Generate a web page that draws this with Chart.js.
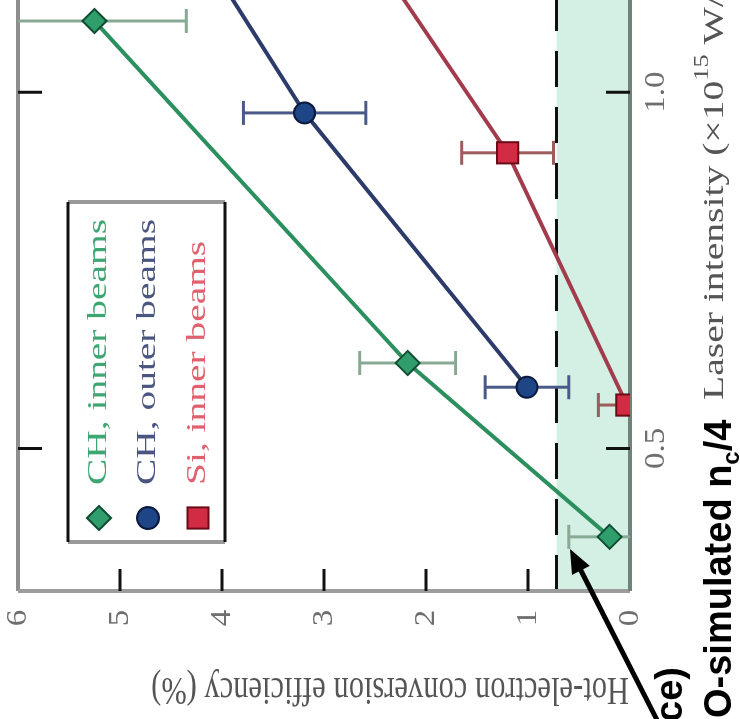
<!DOCTYPE html>
<html>
<head>
<meta charset="utf-8">
<script src="https://cdn.jsdelivr.net/npm/chart.js@4.4.0/dist/chart.umd.min.js"></script>
<style>
  html, body { margin: 0; padding: 0; background: #fff; }
  #wrap { position: relative; width: 740px; height: 719px; overflow: hidden; background: #fff; }
  /* the figure is shown turned a quarter turn counter-clockwise */
  #rot { position: absolute; left: 0; top: 0; width: 1000px; height: 740px;
         transform-origin: 0 0; transform: translate(0px, 719px) rotate(-90deg); }
</style>
</head>
<body>
<div id="wrap"><div id="rot"><canvas id="c" width="1000" height="740"></canvas></div></div>
<script>
// ── DATA ──────────────────────────────────────────────────────────────────────
const seriesLabels = ['CH, inner beams', 'CH, outer beams', 'Si, inner beams'];

const chInnerX   = [0.376, 0.62, 1.10];
const chInnerY   = [0.20, 2.18, 5.25];
const chInnerErr = [0.40, 0.47, 0.90];

const chOuterX   = [0.586, 0.971, 1.30];
const chOuterY   = [1.01, 3.19, 4.65];
const chOuterErr = [0.41, 0.60, null];

const siInnerX   = [0.561, 0.915, 1.30];
const siInnerY   = [0.03, 1.20, 3.02];
const siInnerErr = [0.28, 0.45, null];

const effTicks = [0, 1, 2, 3, 4, 5, 6];
const intensityTicks = [0.5, 1.0];
const threshold = 0.72;   // top of the shaded band

// ── HELPERS ───────────────────────────────────────────────────────────────────
const SERIF = '"Liberation Serif", "DejaVu Serif", serif';
const SANS = '"Liberation Sans", Arial, sans-serif';

function toPoints(xs, ys) { return xs.map((x, i) => ({ x: x, y: ys[i] })); }

// text stretched along the horizontal (intensity) direction, like the source figure
function txt(c, s, u, v, o) {
  c.save();
  c.translate(u, v);
  c.scale(o.sx || 1, 1);
  if (o.rot) c.rotate(o.rot);
  c.font = (o.weight || 'normal') + ' ' + o.size + 'px ' + (o.family || SERIF);
  c.fillStyle = o.color || '#666';
  c.textAlign = o.align || 'left';
  c.textBaseline = o.base || 'middle';
  c.fillText(s, 0, 0);
  const w = c.measureText(s).width * (o.sx || 1);
  c.restore();
  return w;
}

function marker(c, style, u, v, r, fill, stroke) {
  c.save();
  c.beginPath();
  if (style === 'rectRot') {
    c.moveTo(u, v - r); c.lineTo(u + r, v); c.lineTo(u, v + r); c.lineTo(u - r, v); c.closePath();
  } else if (style === 'rect') {
    const s = r * Math.SQRT1_2;
    c.rect(u - s, v - s, 2 * s, 2 * s);
  } else {
    c.arc(u, v, r, 0, Math.PI * 2);
  }
  c.fillStyle = fill; c.fill();
  c.lineWidth = 2; c.strokeStyle = stroke; c.stroke();
  c.restore();
}

// ── BACKGROUND: band, dashed threshold, frame, ticks, error bars ──────────────
const underlay = {
  id: 'underlay',
  beforeDatasetsDraw(chart) {
    const c = chart.ctx, a = chart.chartArea, x = chart.scales.x, y = chart.scales.y;
    const yT = y.getPixelForValue(threshold), y0 = y.getPixelForValue(0);
    c.save();
    c.fillStyle = '#d4efe4';
    c.fillRect(a.left, yT, a.right - a.left, y0 - yT);

    c.strokeStyle = '#111'; c.lineWidth = 3; c.setLineDash([36, 20]);
    c.beginPath(); c.moveTo(a.left, yT); c.lineTo(a.right, yT); c.stroke();
    c.setLineDash([]);

    // frame
    c.lineWidth = 4;
    c.strokeStyle = '#8e8e8e';
    c.beginPath(); c.moveTo(a.left, a.top); c.lineTo(a.right, a.top); c.stroke();
    c.strokeStyle = '#9c9c9c';
    c.beginPath(); c.moveTo(a.left, a.top); c.lineTo(a.left, a.bottom); c.stroke();
    c.strokeStyle = '#6f8379';
    c.beginPath(); c.moveTo(a.left, a.bottom); c.lineTo(a.right, a.bottom); c.stroke();

    // inward ticks
    c.strokeStyle = '#111'; c.lineWidth = 3;
    intensityTicks.forEach(t => {
      const px = x.getPixelForValue(t);
      c.beginPath(); c.moveTo(px, a.top); c.lineTo(px, a.top + 24); c.stroke();
      c.beginPath(); c.moveTo(px, a.bottom); c.lineTo(px, a.bottom - 24); c.stroke();
    });
    effTicks.slice(1, -1).forEach(t => {
      const py = y.getPixelForValue(t);
      c.beginPath(); c.moveTo(a.left, py); c.lineTo(a.left + 22, py); c.stroke();
    });

    // error bars (efficiency uncertainty)
    c.beginPath(); c.rect(a.left, a.top, a.right - a.left, a.bottom - a.top); c.clip();
    chart.data.datasets.forEach(ds => {
      ds.data.forEach((p, i) => {
        const e = ds.errors[i];
        if (e == null) return;
        const px = x.getPixelForValue(p.x);
        const lo = y.getPixelForValue(p.y - e), hi = y.getPixelForValue(p.y + e);
        c.strokeStyle = ds.errColor; c.lineWidth = 3;
        c.beginPath(); c.moveTo(px, lo); c.lineTo(px, hi); c.stroke();
        c.beginPath(); c.moveTo(px - 12, lo); c.lineTo(px + 12, lo); c.stroke();
        c.beginPath(); c.moveTo(px - 12, hi); c.lineTo(px + 12, hi); c.stroke();
      });
    });
    c.restore();
  }
};

// ── TEXT, LEGEND AND ANNOTATION ───────────────────────────────────────────────
const overlay = {
  id: 'overlay',
  afterDraw(chart) {
    const c = chart.ctx, x = chart.scales.x, y = chart.scales.y;

    effTicks.forEach(t => txt(c, String(t), 101, y.getPixelForValue(t),
      { size: 30, sx: 1.1, color: '#6e6e6e', align: 'center' }));
    intensityTicks.forEach(t => txt(c, t.toFixed(1), x.getPixelForValue(t), 656,
      { size: 30, sx: 1.1, color: '#6e6e6e', align: 'center' }));

    txt(c, 'Hot-electron conversion efficiency (%)', 31, 629,
      { size: 30.5, sx: 1.3, rot: -Math.PI / 2, color: '#555' });

    let u = 319;
    const tOpt = { size: 30, sx: 1.32, color: '#555' };
    const sOpt = { size: 20, sx: 1.32, color: '#555' };
    u += txt(c, 'Laser intensity (\u00d710', u, 715, tOpt);
    u += txt(c, '15', u, 703, sOpt);
    u += txt(c, ' W/cm', u, 715, tOpt);
    u += txt(c, '2', u, 703, sOpt);
    txt(c, ')', u, 715, tOpt);

    // legend
    const L = { u0: 177, u1: 517, v0: 68, v1: 225 };
    c.save();
    c.fillStyle = '#fff';
    c.fillRect(L.u0, L.v0, L.u1 - L.u0, L.v1 - L.v0);
    c.lineWidth = 4; c.strokeStyle = '#9a9a9a';
    c.beginPath(); c.moveTo(L.u0, L.v0); c.lineTo(L.u0, L.v1); c.moveTo(L.u1, L.v0); c.lineTo(L.u1, L.v1); c.stroke();
    c.lineWidth = 3; c.strokeStyle = '#111';
    c.beginPath(); c.moveTo(L.u0, L.v0); c.lineTo(L.u1, L.v0); c.moveTo(L.u0, L.v1); c.lineTo(L.u1, L.v1); c.stroke();
    c.restore();
    const rows = [99, 148, 198];
    chart.data.datasets.forEach((ds, i) => {
      marker(c, ds.pointStyle, 201, rows[i], ds.legendR, ds.pointBackgroundColor, ds.pointBorderColor);
      txt(c, ds.label, 234, rows[i], { size: 27, sx: 1.46, color: ds.textColor });
    });

    // overlaid slide annotation
    let a = 1;
    a += txt(c, 'O-simulated n', a, 731, { size: 38, weight: 'bold', family: SANS, color: '#000', base: 'alphabetic' });
    a += txt(c, 'c', a, 739, { size: 24, weight: 'bold', family: SANS, color: '#000', base: 'alphabetic' });
    txt(c, '/4', a, 731, { size: 38, weight: 'bold', family: SANS, color: '#000', base: 'alphabetic' });
    txt(c, 'ce)', 52, 682, { size: 38, weight: 'bold', family: SANS, color: '#000', align: 'right', base: 'alphabetic' });

    const tail = { u: -5, v: 659 }, tip = { u: 170, v: 570 };
    const ang = Math.atan2(tip.v - tail.v, tip.u - tail.u);
    c.save();
    c.strokeStyle = '#000'; c.fillStyle = '#000'; c.lineWidth = 5;
    c.beginPath(); c.moveTo(tail.u, tail.v);
    c.lineTo(tip.u - 16 * Math.cos(ang), tip.v - 16 * Math.sin(ang)); c.stroke();
    c.translate(tip.u, tip.v); c.rotate(ang);
    c.beginPath(); c.moveTo(0, 0); c.lineTo(-24, -10); c.lineTo(-24, 10); c.closePath(); c.fill();
    c.restore();
  }
};

// ── CHART ─────────────────────────────────────────────────────────────────────
new Chart(document.getElementById('c').getContext('2d'), {
  type: 'scatter',
  data: {
    datasets: [
      {
        label: seriesLabels[0], data: toPoints(chInnerX, chInnerY), errors: chInnerErr,
        showLine: true, borderColor: '#2c8f5e', borderWidth: 4,
        pointStyle: 'rectRot', pointRadius: 12, legendR: 12,
        pointBackgroundColor: '#2f9d6c', pointBorderColor: '#0f4d30', pointBorderWidth: 2,
        errColor: '#86aa94', textColor: '#3ea673'
      },
      {
        label: seriesLabels[1], data: toPoints(chOuterX, chOuterY), errors: chOuterErr,
        showLine: true, borderColor: '#2d3b6b', borderWidth: 4,
        pointStyle: 'circle', pointRadius: 10.5, legendR: 11,
        pointBackgroundColor: '#1e4585', pointBorderColor: '#0c1a40', pointBorderWidth: 2,
        errColor: '#4a5a88', textColor: '#4b5680'
      },
      {
        label: seriesLabels[2], data: toPoints(siInnerX, siInnerY), errors: siInnerErr,
        showLine: true, borderColor: '#a23c4c', borderWidth: 4,
        pointStyle: 'rect', pointRadius: 15, legendR: 15,
        pointBackgroundColor: '#d12c44', pointBorderColor: '#6b0b17', pointBorderWidth: 2,
        errColor: '#9c5c5c', textColor: '#e0606e'
      }
    ]
  },
  options: {
    responsive: false, animation: false, devicePixelRatio: 1,
    layout: { padding: { left: 128, top: 18, right: 11, bottom: 110 } },
    plugins: { legend: { display: false }, tooltip: { enabled: false } },
    scales: {
      x: { type: 'linear', min: 0.3, max: 1.5, display: false },
      y: { type: 'linear', min: 0, max: 6, display: false }
    }
  },
  plugins: [underlay, overlay]
});
</script>
</body>
</html>
